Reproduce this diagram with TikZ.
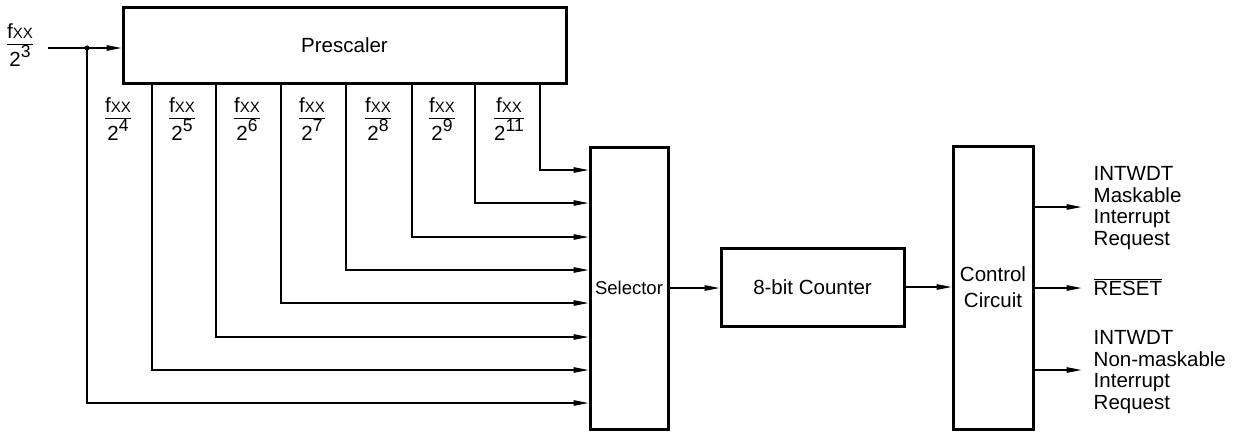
\documentclass[tikz,border=0pt]{standalone}
\usepackage{fontspec}
\setmainfont{Liberation Sans}
\usetikzlibrary{positioning, arrows.meta, calc}

\newcommand{\fxx}[1]{{\setlength{\arrayrulewidth}{1.3pt}\renewcommand{\arraystretch}{0.8}%
  \begin{tabular}{@{}c@{}}f{\fontsize{15}{15}\selectfont XX}\\\hline 2\raisebox{0.45em}{\fontsize{17.5}{17.5}\selectfont #1}\end{tabular}}}

\begin{document}
\begin{tikzpicture}[
    x=1pt, y=-1pt, font=\fontsize{20.5}{21.7}\selectfont,
    blk/.style={rectangle, draw, line width=3pt, inner sep=0pt, align=center},
    arr/.style={-{Triangle[length=15pt, width=5.5pt]}, line width=1.2pt},
    frac/.style={inner sep=0pt},
    outlbl/.style={inner sep=0pt, align=left, anchor=west}
]
\useasboundingbox (0,0) rectangle (1246,432);

\node[blk, minimum width=443pt, minimum height=76pt] (pre) at (344.5,45) {Prescaler};
\node[blk, minimum width=78pt, minimum height=282pt] (sel) at (629,288) {\fontsize{18.5}{20}\selectfont Selector};
\node[blk, minimum width=183pt, minimum height=78pt] (ctr) at (812.5,287) {8-bit Counter};
\node[blk, minimum width=80pt, minimum height=283pt] (ctl) at (993,287.5) {Control\\[4pt]Circuit};

\node[frac] (f3) at (20,48) {\fxx{3}};
\coordinate (in) at (48,48);
\coordinate (tap) at (87,48);
\draw[arr] (in) -- (in -| pre.west);
\fill (tap) circle (2.6pt);
\draw[arr] (tap) |- (sel.west |- 0,403);

\foreach \x/\y in {540/170, 475/203, 412/237, 346/270, 281/303, 216/337, 152/370}
  \draw[arr] (\x,0 |- pre.south) |- (sel.west |- 0,\y);

\foreach \x/\e in {118/4, 182/5, 247/6, 312/7, 378/8, 442/9, 509/11}
  \node[frac] (f\e) at (\x,122) {\fxx{\e}};

\draw[arr] (sel.east) -- (sel.east -| ctr.west);
\draw[arr] (ctr.east) -- (ctr.east -| ctl.west);

\draw[arr] (ctl.east |- 0,207) -- ++(47,0) coordinate (msk);
\draw[arr] (ctl.east |- 0,288) -- ++(47,0) coordinate (rst);
\draw[arr] (ctl.east |- 0,370) -- ++(47,0) coordinate (nmi);

\node[outlbl] (lmsk) at ($(msk)+(12,1)$) {INTWDT\\Maskable\\Interrupt\\Request};
\node[outlbl] (lrst) at ($(rst)+(12,-1)$) {$\overline{\mbox{RESET}}$};
\node[outlbl] (lnmi) at ($(nmi)+(12,2)$) {INTWDT\\Non-maskable\\Interrupt\\Request};
\end{tikzpicture}
\end{document}
